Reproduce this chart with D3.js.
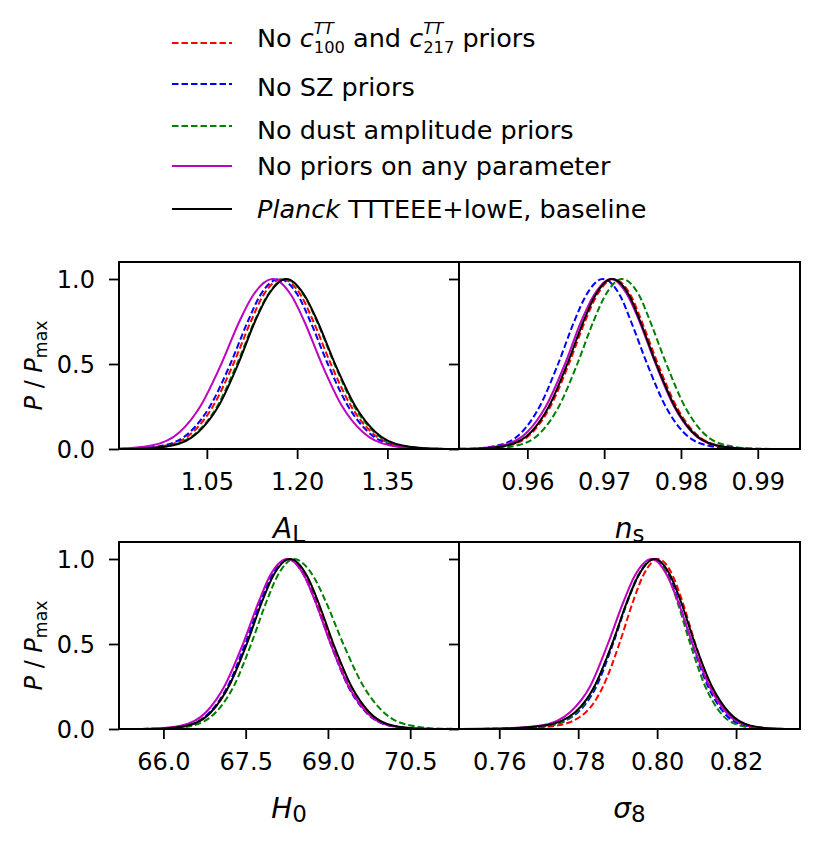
<!DOCTYPE html>
<html>
<head>
<meta charset="utf-8">
<script src="https://cdn.jsdelivr.net/npm/d3@7"></script>
<style>
  body { margin: 0; background: #fff; }
  text { font-family: "DejaVu Sans", sans-serif; fill: #000; white-space: pre; }
</style>
</head>
<body>
<div id="chart"></div>
<script>
'use strict'

// series (legend order)
const seriesNames = ['No c100/c217 priors', 'No SZ priors', 'No dust amplitude priors', 'No priors on any parameter', 'Planck TTTEEE+lowE, baseline']
const seriesColors = ['#ff0000', '#0000ff', '#008000', '#bf00bf', '#000000']
const seriesDashed = [true, true, true, false, false]

const levels = [0, 0.002, 0.02, 0.1, 0.25, 0.5, 0.75, 0.9, 1, 0.9, 0.75, 0.5, 0.25, 0.1, 0.02, 0.002, 0]

// x positions at those levels, one row per series
const xAL = [
    [0.878, 0.932, 0.982, 1.027, 1.060, 1.094, 1.123, 1.143, 1.175, 1.207, 1.227, 1.256, 1.290, 1.323, 1.368, 1.418, 1.472],
    [0.873, 0.927, 0.977, 1.022, 1.055, 1.089, 1.118, 1.138, 1.170, 1.202, 1.222, 1.251, 1.285, 1.318, 1.363, 1.413, 1.467],
    [0.886, 0.940, 0.989, 1.034, 1.067, 1.100, 1.129, 1.150, 1.181, 1.212, 1.233, 1.262, 1.295, 1.328, 1.373, 1.422, 1.476],
    [0.849, 0.905, 0.958, 1.005, 1.039, 1.074, 1.104, 1.126, 1.159, 1.191, 1.212, 1.241, 1.275, 1.309, 1.355, 1.406, 1.460],
    [0.890, 0.942, 0.992, 1.036, 1.069, 1.102, 1.130, 1.151, 1.182, 1.213, 1.234, 1.263, 1.297, 1.330, 1.375, 1.425, 1.479]
]
const xNs = [
    [0.9501, 0.9539, 0.9575, 0.9607, 0.9630, 0.9654, 0.9675, 0.9690, 0.9712, 0.9735, 0.9749, 0.9770, 0.9794, 0.9817, 0.9849, 0.9885, 0.9923],
    [0.9487, 0.9525, 0.9561, 0.9593, 0.9616, 0.9640, 0.9661, 0.9676, 0.9698, 0.9721, 0.9735, 0.9756, 0.9780, 0.9803, 0.9835, 0.9871, 0.9909],
    [0.9512, 0.9550, 0.9586, 0.9618, 0.9641, 0.9665, 0.9686, 0.9701, 0.9723, 0.9746, 0.9760, 0.9781, 0.9805, 0.9828, 0.9860, 0.9896, 0.9934],
    [0.9490, 0.9529, 0.9566, 0.9600, 0.9624, 0.9649, 0.9670, 0.9686, 0.9709, 0.9731, 0.9746, 0.9767, 0.9791, 0.9814, 0.9846, 0.9882, 0.9920],
    [0.9499, 0.9537, 0.9573, 0.9605, 0.9628, 0.9652, 0.9673, 0.9688, 0.9710, 0.9733, 0.9747, 0.9768, 0.9792, 0.9815, 0.9847, 0.9883, 0.9921]
]
const xH0 = [
    [65.45, 65.96, 66.44, 66.87, 67.19, 67.51, 67.79, 67.99, 68.29, 68.59, 68.79, 69.07, 69.39, 69.71, 70.14, 70.62, 71.13],
    [65.43, 65.94, 66.42, 66.85, 67.17, 67.49, 67.77, 67.97, 68.27, 68.57, 68.77, 69.05, 69.37, 69.69, 70.12, 70.60, 71.11],
    [65.54, 66.05, 66.53, 66.96, 67.28, 67.60, 67.88, 68.08, 68.38, 68.73, 68.96, 69.28, 69.65, 70.01, 70.51, 71.06, 71.65],
    [65.29, 65.83, 66.33, 66.78, 67.11, 67.45, 67.74, 67.94, 68.26, 68.57, 68.77, 69.05, 69.38, 69.70, 70.13, 70.62, 71.14],
    [65.43, 65.95, 66.44, 66.87, 67.19, 67.52, 67.80, 68.00, 68.31, 68.62, 68.82, 69.10, 69.43, 69.75, 70.18, 70.67, 71.19]
]
const xS8 = [
    [0.753, 0.763, 0.7745, 0.7820, 0.7863, 0.7904, 0.7939, 0.7964, 0.8003, 0.8040, 0.8064, 0.8097, 0.8136, 0.8175, 0.8227, 0.8285, 0.8347],
    [0.751, 0.761, 0.7725, 0.7800, 0.7846, 0.7888, 0.7925, 0.7952, 0.7992, 0.8030, 0.8054, 0.8089, 0.8129, 0.8168, 0.8221, 0.8281, 0.8345],
    [0.751, 0.761, 0.7725, 0.7797, 0.7842, 0.7886, 0.7924, 0.7951, 0.7992, 0.8028, 0.8051, 0.8084, 0.8122, 0.8159, 0.8210, 0.8267, 0.8327],
    [0.749, 0.759, 0.7705, 0.7780, 0.7830, 0.7875, 0.7915, 0.7943, 0.7986, 0.8026, 0.8053, 0.8090, 0.8133, 0.8175, 0.8232, 0.8296, 0.8364],
    [0.750, 0.760, 0.7715, 0.7793, 0.7841, 0.7886, 0.7924, 0.7952, 0.7994, 0.8034, 0.8060, 0.8096, 0.8139, 0.8181, 0.8237, 0.8301, 0.8368]
]

// axis ranges and ticks
const domAL = [0.904, 1.469], ticksAL = [1.05, 1.20, 1.35]
const domNs = [0.9511, 0.9955], ticksNs = [0.96, 0.97, 0.98, 0.99]
const domH0 = [65.19, 71.39], ticksH0 = [66.0, 67.5, 69.0, 70.5]
const domS8 = [0.7498, 0.8362], ticksS8 = [0.76, 0.78, 0.80, 0.82]
const ticksY = [0, 0.5, 1.0]

////////////////////////////////////
//////////// svg setup /////////////
////////////////////////////////////

const svgWidth = 831
const svgHeight = 850

const svg = d3.select('#chart').append('svg')
    .attr('width', svgWidth)
    .attr('height', svgHeight)
    .attr('viewBox', `0 0 ${svgWidth} ${svgHeight}`)

svg.append('rect').attr('width', svgWidth).attr('height', svgHeight).attr('fill', '#fff')

const defs = svg.append('defs')

// one text element with italic bits and stacked sub/superscripts, returns width
function richText(sel, x, y, parts, size, opts = {}) {
    const measure = (str, fs, it) => {
        const t = sel.append('text').attr('font-size', fs).attr('font-style', it ? 'italic' : 'normal').text(str)
        const w = t.node().getComputedTextLength()
        t.remove()
        return w
    }
    const text = sel.append('text').attr('x', x).attr('y', y).attr('font-size', size)
    const small = size * (opts.small || 0.64)
    const up = -size * 0.48, down = size * (opts.down || 0.27)
    let cx = x, cur = 0
    parts.forEach(p => {
        if (p.sup !== undefined || p.sub !== undefined) {
            let w = 0
            if (p.sup !== undefined) {
                text.append('tspan').attr('x', cx).attr('dy', up - cur)
                    .attr('font-size', small).attr('font-style', 'italic').text(p.sup)
                cur = up
                w = measure(p.sup, small, true)
            }
            if (p.sub !== undefined) {
                text.append('tspan').attr('x', cx).attr('dy', down - cur)
                    .attr('font-size', small).text(p.sub)
                cur = down
                w = Math.max(w, measure(p.sub, small, false))
            }
            cx += w
        } else {
            text.append('tspan').attr('x', cx).attr('dy', -cur)
                .attr('font-style', p.it ? 'italic' : 'normal').text(p.t)
            cur = 0
            cx += measure(p.t, size, p.it)
        }
    })
    return cx - x
}

////////////////////////////////////
////////////// legend //////////////
////////////////////////////////////

const legendText = [
    [{t: 'No '}, {t: 'c', it: true}, {sup: 'TT', sub: '100'}, {t: ' and '}, {t: 'c', it: true}, {sup: 'TT', sub: '217'}, {t: ' priors'}],
    [{t: 'No SZ priors'}],
    [{t: 'No dust amplitude priors'}],
    [{t: 'No priors on any parameter'}],
    [{t: 'Planck', it: true}, {t: ' TTTEEE+lowE, baseline'}]
]
const legendLineY = [43, 84, 126, 166, 209]
const legendTextY = [46.5, 96, 139, 175, 218]

const legend = svg.append('g').attr('id', 'legend')
seriesNames.forEach((name, i) => {
    legend.append('line')
        .attr('x1', 172).attr('x2', 232)
        .attr('y1', legendLineY[i]).attr('y2', legendLineY[i])
        .attr('stroke', seriesColors[i])
        .attr('stroke-width', 2)
        .attr('stroke-dasharray', seriesDashed[i] ? '6.5,3' : null)
    richText(legend, 257, legendTextY[i], legendText[i], 25.5)
})

////////////////////////////////////
////////////// panels //////////////
////////////////////////////////////

const panels = [
    {id: 'AL', x0: 119, x1: 459, y0: 262, y1: 449, dom: domAL, ticks: ticksAL, fmt: '.2f', data: xAL, label: ['A', 'L'], yLabels: true},
    {id: 'ns', x0: 459, x1: 800, y0: 262, y1: 449, dom: domNs, ticks: ticksNs, fmt: '.2f', data: xNs, label: ['n', 's'], yLabels: false},
    {id: 'H0', x0: 119, x1: 459, y0: 542, y1: 729, dom: domH0, ticks: ticksH0, fmt: '.1f', data: xH0, label: ['H', '0'], yLabels: true},
    {id: 's8', x0: 459, x1: 800, y0: 542, y1: 729, dom: domS8, ticks: ticksS8, fmt: '.2f', data: xS8, label: ['\u03C3', '8'], yLabels: false}
]

panels.forEach(p => {
    const x = d3.scaleLinear().domain(p.dom).range([p.x0, p.x1])
    const y = d3.scaleLinear().domain([0, 1.1]).range([p.y1, p.y0])

    const g = svg.append('g').attr('id', 'panel-' + p.id)

    // white face, hides the label of the panel above where they meet
    g.append('rect')
        .attr('x', p.x0).attr('y', p.y0)
        .attr('width', p.x1 - p.x0).attr('height', p.y1 - p.y0)
        .attr('fill', '#fff')

    defs.append('clipPath').attr('id', 'clip-' + p.id)
        .append('rect')
        .attr('x', p.x0).attr('y', p.y0)
        .attr('width', p.x1 - p.x0).attr('height', p.y1 - p.y0)

    const line = d3.line()
        .x(d => x(d))
        .y((d, i) => y(levels[i]))
        .curve(d3.curveMonotoneX)

    g.append('g').attr('clip-path', `url(#clip-${p.id})`)
        .selectAll('path')
        .data(p.data)
        .enter()
        .append('path')
        .attr('d', d => line(d))
        .attr('fill', 'none')
        .attr('stroke', (d, i) => seriesColors[i])
        .attr('stroke-width', 2)
        .attr('stroke-dasharray', (d, i) => seriesDashed[i] ? '6.5,3' : null)

    // x axis
    const xAxis = g.append('g')
        .attr('transform', `translate(0,${p.y1})`)
        .call(d3.axisBottom(x).tickValues(p.ticks).tickFormat(d3.format(p.fmt)).tickSize(10).tickPadding(14))
    xAxis.select('.domain').remove()
    xAxis.selectAll('line').attr('stroke', '#000').attr('stroke-width', 1.8)
    xAxis.selectAll('text').attr('font-size', 24).attr('dy', '0.71em')

    // y axis
    const yAxis = g.append('g')
        .attr('transform', `translate(${p.x0},0)`)
        .call(d3.axisLeft(y).tickValues(ticksY).tickFormat(d3.format('.1f')).tickSize(10).tickPadding(14))
    yAxis.select('.domain').remove()
    yAxis.selectAll('line').attr('stroke', '#000').attr('stroke-width', 1.8)
    yAxis.selectAll('text').attr('font-size', 24).attr('dy', '0.36em')
    if (!p.yLabels) yAxis.selectAll('text').remove()

    // frame
    g.append('rect')
        .attr('x', p.x0).attr('y', p.y0)
        .attr('width', p.x1 - p.x0).attr('height', p.y1 - p.y0)
        .attr('fill', 'none')
        .attr('stroke', '#000')
        .attr('stroke-width', 2)

    // axis label
    const lab = g.append('g')
    const w = richText(lab, 0, p.y1 + 89, [{t: p.label[0], it: true}, {sub: p.label[1]}], 28, {small: 0.82, down: 0.16})
    lab.attr('transform', `translate(${(p.x0 + p.x1) / 2 - w / 2},0)`)
})

// shared y label
panels.filter(p => p.yLabels).forEach(p => {
    const lab = svg.append('g')
    const inner = lab.append('g')
    const w = richText(inner, 0, 0, [{t: 'P', it: true}, {t: ' / '}, {t: 'P', it: true}, {sub: 'max'}], 24, {small: 0.72, down: 0.2})
    inner.attr('transform', `translate(${-w / 2},0)`)
    lab.attr('transform', `translate(42,${(p.y0 + p.y1) / 2 + 10}) rotate(-90)`)
})
</script>
</body>
</html>
